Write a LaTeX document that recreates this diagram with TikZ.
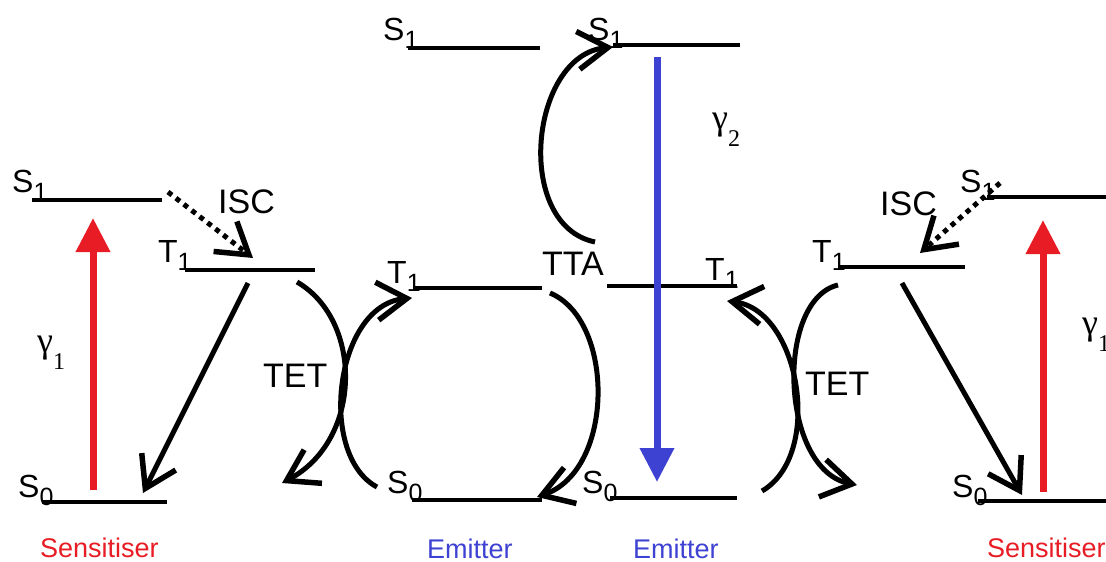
\documentclass[tikz,border=0pt]{standalone}
\usepackage{fontspec}
\setmainfont{Liberation Sans}
\newfontfamily\gfont{Liberation Serif}
\usetikzlibrary{arrows.meta}
\definecolor{sred}{RGB}{232,28,36}
\definecolor{eblue}{RGB}{62,66,210}
\newcommand\lv[2]{#1\raisebox{-8pt}{\fontsize{25}{25}\selectfont #2}}
\newcommand\gam[1]{{\gfont\fontsize{36}{36}\selectfont γ\raisebox{-17pt}{\fontsize{24}{24}\selectfont #1}}}
\begin{document}
\begin{tikzpicture}[x=1pt,y=-1pt,
  level/.style={line width=3.4pt},
  lab/.style={inner sep=0pt, anchor=base west, font=\fontsize{32}{32}\selectfont},
  proc/.style={inner sep=0pt, anchor=base west, font=\fontsize{34}{34}\selectfont},
  role/.style={inner sep=0pt, anchor=base west, font=\fontsize{27}{27}\selectfont},
  gl/.style={inner sep=0pt, anchor=base west},
  barb/.style={line width=5pt, -{Straight Barb[length=30pt,width=38pt,line width=5.5pt]}},
  isc/.style={line width=5pt, dash pattern=on 5pt off 5pt, -{Straight Barb[length=30pt,width=38pt,line width=5.5pt]}},
  photon/.style={line width=7pt, -{Triangle[length=34pt,width=33pt]}},
]
\useasboundingbox (0,0) rectangle (1106,562);

% ---------- coordinates ----------
% left sensitiser
\coordinate (lS1a) at (32,200);  \coordinate (lS1b) at (162,200);
\coordinate (lT1a) at (185,270); \coordinate (lT1b) at (315,270);
\coordinate (lS0a) at (42,502);  \coordinate (lS0b) at (167,502);
\coordinate (lRb) at (93,490);   \coordinate (lRt) at (93,218);
\coordinate (lIa) at (168,192);  \coordinate (lIb) at (253,258);
\coordinate (lDa) at (248,283);  \coordinate (lDb) at (143,493);
% left TET
\coordinate (t1a) at (297,282);  \coordinate (t1b) at (282,483);
\coordinate (t2a) at (377,487);  \coordinate (t2b) at (412,298);
% emitter 1
\coordinate (e1S1a) at (408,48);  \coordinate (e1S1b) at (540,48);
\coordinate (e1T1a) at (413,288); \coordinate (e1T1b) at (542,288);
\coordinate (e1S0a) at (412,500); \coordinate (e1S0b) at (542,500);
\coordinate (dA) at (550,293);    \coordinate (dB) at (537,497);
% emitter 2
\coordinate (e2S1a) at (613,45);  \coordinate (e2S1b) at (740,45);
\coordinate (e2T1a) at (607,286); \coordinate (e2T1b) at (737,286);
\coordinate (e2S0a) at (610,498); \coordinate (e2S0b) at (737,498);
\coordinate (ttaA) at (595,242);  \coordinate (ttaB) at (613,47);
\coordinate (bT) at (657,57);     \coordinate (bB) at (657,482);
% right TET
\coordinate (t3a) at (762,491);   \coordinate (t3b) at (727,301);
\coordinate (t4a) at (838,285);   \coordinate (t4b) at (857,485);
% right sensitiser
\coordinate (rT1a) at (838,267);  \coordinate (rT1b) at (965,267);
\coordinate (rS1a) at (987,197);  \coordinate (rS1b) at (1110,197);
\coordinate (rS0a) at (978,501);  \coordinate (rS0b) at (1110,501);
\coordinate (rIa) at (1000,183);  \coordinate (rIb) at (920,253);
\coordinate (rDa) at (902,283);   \coordinate (rDb) at (1022,495);
\coordinate (rRb) at (1043,492);  \coordinate (rRt) at (1043,220);

% ---------- levels ----------
\foreach \p in {lS1,lT1,lS0,e1S1,e1T1,e1S0,e2S1,e2T1,e2S0,rT1,rS1,rS0}
  \draw[level] (\p a) -- (\p b);

% ---------- labels ----------
\node[lab] (lS1l) at (12,192) {\lv S1};
\node[lab] (lT1l) at (158,262) {\lv T1};
\node[lab] (lS0l) at (18,497) {\lv S0};
\node[lab] (e1S1l) at (383,40) {\lv S1};
\node[lab] (e1T1l) at (387,283) {\lv T1};
\node[lab] (e1S0l) at (387,493) {\lv S0};
\node[lab] (e2S1l) at (588,40) {\lv S1};
\node[lab] (e2T1l) at (705,280) {\lv T1};
\node[lab] (e2S0l) at (582,493) {\lv S0};
\node[lab] (rT1l) at (812,262) {\lv T1};
\node[lab] (rS1l) at (960,192) {\lv S1};
\node[lab] (rS0l) at (952,497) {\lv S0};

\node[proc] (iscL) at (218,213) {ISC};
\node[proc] (tetL) at (263,387) {TET};
\node[proc] (tta) at (542,275) {TTA};
\node[proc] (tetR) at (805,395) {TET};
\node[proc] (iscR) at (880,215) {ISC};

\node[gl] (g1L) at (37,352) {\gam1};
\node[gl] (g2) at (712,129) {\gam2};
\node[gl] (g1R) at (1082,334) {\gam1};

\node[role, text=sred] (senL) at (40,557) {Sensitiser};
\node[role, text=eblue] (emL) at (427,558) {Emitter};
\node[role, text=eblue] (emR) at (633,558) {Emitter};
\node[role, text=sred] (senR) at (987,557) {Sensitiser};

% ---------- transitions ----------
\draw[photon, sred] (lRb) -- (lRt);
\draw[photon, sred] (rRb) -- (rRt);
\draw[isc] (lIa) -- (lIb);
\draw[isc] (rIa) -- (rIb);
\draw[barb] (lDa) -- (lDb);
\draw[barb] (rDa) -- (rDb);

\draw[barb] (t1a) .. controls (363,320) and (363,440) .. (t1b);
\draw[barb] (t2a) .. controls (317,455) and (335,305) .. (t2b);
\draw[barb] (dA) .. controls (615,320) and (615,470) .. (dB);
\draw[barb] (ttaA) .. controls (513,225) and (530,55) .. (ttaB);
\draw[barb] (t3a) .. controls (824,455) and (800,310) .. (t3b);
\draw[barb] (t4a) .. controls (775,300) and (780,470) .. (t4b);

\draw[photon, eblue] (bT) -- (bB);
\end{tikzpicture}
\end{document}
